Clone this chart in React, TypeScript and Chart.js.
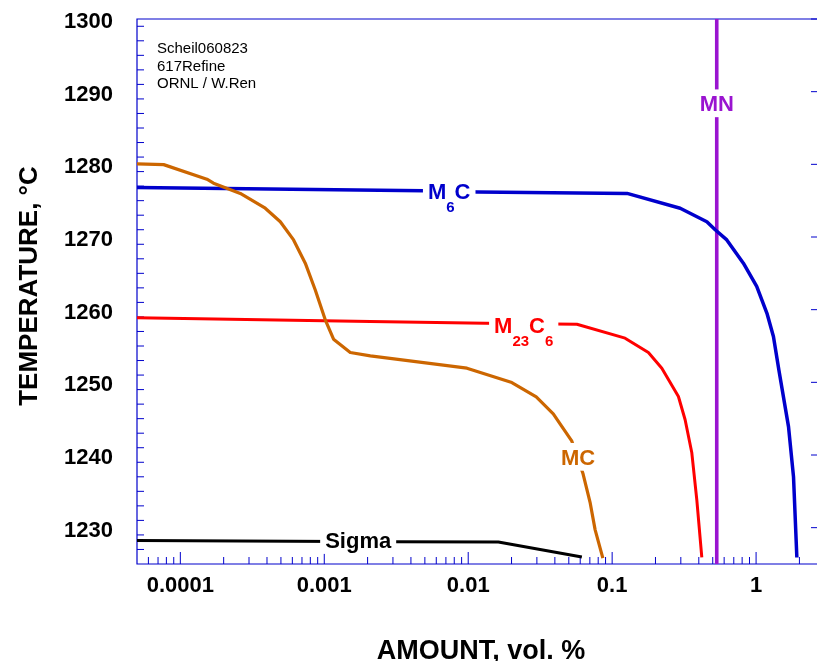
import React, { useEffect, useRef } from 'react';
import { Chart, registerables } from 'chart.js';

Chart.register(...registerables);

// ---- axis ranges & ticks ----
const X_MIN = 5e-5;
const X_MAX = 2.65;
const Y_MIN = 1225;
const Y_MAX = 1300;
const xTickValues = [1e-4, 1e-3, 1e-2, 0.1, 1];
const xTickLabels = ['0.0001', '0.001', '0.01', '0.1', '1'];
const yTickValues = [1230, 1240, 1250, 1260, 1270, 1280, 1290, 1300];
const yMinorStep = 2;

// ---- series ----
const mcX = [5e-5, 7.66e-5, 1.53e-4, 1.70e-4, 2.61e-4, 3.89e-4, 4.95e-4, 6.12e-4, 7.38e-4, 8.66e-4, 1.016e-3, 1.16e-3, 1.516e-3, 2.09e-3, 9.8e-3, 0.0201, 0.0297, 0.039, 0.0448, 0.0525, 0.0626, 0.0704, 0.0762, 0.0862];
const mcY = [1280.05, 1279.96, 1277.95, 1277.4, 1276.0, 1273.96, 1272.1, 1269.6, 1266.4, 1262.7, 1258.6, 1255.94, 1254.1, 1253.65, 1251.95, 1249.97, 1248.0, 1245.67, 1243.9, 1241.9, 1237.5, 1233.4, 1229.7, 1225.8];

const m6cX = [5e-5, 0.0049, 0.0116, 0.127, 0.297, 0.455, 0.52, 0.626, 0.816, 1.01, 1.19, 1.32, 1.44, 1.68, 1.82, 1.92];
const m6cY = [1276.8, 1276.35, 1276.2, 1276.0, 1273.95, 1272.1, 1271.0, 1269.6, 1266.4, 1263.2, 1259.5, 1256.3, 1251.7, 1243.9, 1237.0, 1225.9];

const m23c6X = [5e-5, 0.00209, 0.0131, 0.0569, 0.123, 0.1786, 0.2214, 0.2887, 0.3214, 0.3577, 0.3876, 0.4197];
const m23c6Y = [1258.9, 1258.36, 1258.14, 1258.0, 1256.08, 1254.1, 1251.95, 1248.05, 1244.85, 1240.3, 1233.8, 1225.9];

const mnX = [0.533, 0.533];
const mnY = [1225, 1300];

const sigmaX = [5e-5, 0.00301, 0.0162, 0.0616];
const sigmaY = [1228.24, 1228.06, 1228.02, 1225.96];

// ---- inline curve labels (anchor in data units) ----
const labelTexts = [
  [['M', 0], ['6', 1], ['C', 0]],
  [['M', 0], ['23', 1], ['C', 0], ['6', 1]],
  [['MC', 0]],
  [['Sigma', 0]],
  [['MN', 0]],
];
const labelX = [0.00738, 0.0243, 0.058, 0.00172, 0.533];
const labelY = [1276.3, 1257.9, 1239.75, 1228.3, 1288.4];

const noteLines = ['Scheil060823', '617Refine', 'ORNL / W.Ren'];

const COLORS = {
  mc: '#cc6600',
  m6c: '#0000cc',
  m23c6: '#ff0000',
  mn: '#9a14d0',
  sigma: '#000000',
  axis: '#0000cc',
};
const labelColors = [COLORS.m6c, COLORS.m23c6, COLORS.mc, COLORS.sigma, COLORS.mn];

const FONT = '"Liberation Sans", Arial, Helvetica, sans-serif';

const toPts = (xs: number[], ys: number[]) => xs.map((x, i) => ({ x, y: ys[i] }));

const decorPlugin = {
  id: 'decor',
  beforeDatasetsDraw(chart: any) {
    const { ctx, chartArea } = chart;
    const { left, right, top, bottom } = chartArea;
    const xs = chart.scales.x;
    const ys = chart.scales.y;
    ctx.save();
    ctx.strokeStyle = COLORS.axis;
    ctx.lineWidth = 1.2;
    ctx.beginPath();
    ctx.moveTo(left, top);
    ctx.lineTo(right + 1, top);
    ctx.lineTo(right + 1, bottom);
    ctx.lineTo(left, bottom);
    ctx.closePath();
    ctx.stroke();
    ctx.lineWidth = 1;
    // left axis ticks
    for (let v = Y_MIN; v <= Y_MAX; v += yMinorStep) {
      if (v === Y_MIN) continue;
      const p = ys.getPixelForValue(v);
      const major = v % 10 === 0;
      ctx.beginPath();
      ctx.moveTo(left, p);
      ctx.lineTo(left + (major ? 13 : 7), p);
      ctx.stroke();
    }
    // right axis ticks (major only)
    yTickValues.forEach((v) => {
      const p = ys.getPixelForValue(v);
      ctx.beginPath();
      ctx.moveTo(right, p);
      ctx.lineTo(right - 6, p);
      ctx.stroke();
    });
    // bottom axis ticks
    for (let e = -5; e <= 0; e++) {
      for (let m = 1; m <= 9; m++) {
        const v = m * Math.pow(10, e);
        if (v <= X_MIN || v >= X_MAX) continue;
        const p = xs.getPixelForValue(v);
        const major = m === 1;
        ctx.beginPath();
        ctx.moveTo(p, bottom);
        ctx.lineTo(p, bottom - (major ? 12 : 7));
        ctx.stroke();
      }
    }
    ctx.restore();
  },
  afterDatasetsDraw(chart: any) {
    const { ctx, chartArea } = chart;
    const xs = chart.scales.x;
    const ys = chart.scales.y;
    ctx.save();
    const mainSize = 22;
    const subSize = 15;
    const mainFont = `bold ${mainSize}px ${FONT}`;
    const subFont = `bold ${subSize}px ${FONT}`;
    const cap = mainSize * 0.716;
    labelTexts.forEach((parts: any[], i) => {
      const cx = xs.getPixelForValue(labelX[i]);
      const cy = ys.getPixelForValue(labelY[i]);
      const widths = parts.map(([t, sub]) => {
        ctx.font = sub ? subFont : mainFont;
        return ctx.measureText(t).width;
      });
      const total = widths.reduce((a: number, b: number) => a + b, 0);
      const x0 = cx - total / 2;
      const base = cy + cap / 2;
      ctx.fillStyle = '#ffffff';
      ctx.fillRect(x0 - 5, base - cap - 6, total + 10, cap + 12);
      ctx.fillStyle = labelColors[i];
      ctx.textBaseline = 'alphabetic';
      ctx.textAlign = 'left';
      let x = x0;
      parts.forEach(([t, sub]: any, j: number) => {
        ctx.font = sub ? subFont : mainFont;
        ctx.fillText(t, x, sub ? base + 13 : base);
        x += widths[j];
      });
    });

    // note text
    ctx.fillStyle = '#000';
    ctx.font = `15px ${FONT}`;
    ctx.textAlign = 'left';
    ctx.textBaseline = 'alphabetic';
    noteLines.forEach((t, i) => {
      ctx.fillText(t, chartArea.left + 20, chartArea.top + 34 + i * 17.5);
    });

    // axis titles
    ctx.font = `bold 27px ${FONT}`;
    ctx.textAlign = 'center';
    ctx.fillText('AMOUNT, vol. %', 481, 659);
    ctx.save();
    ctx.translate(37, 286);
    ctx.rotate(-Math.PI / 2);
    ctx.font = `bold 26px ${FONT}`;
    ctx.fillText('TEMPERATURE, \u00B0C', 0, 0);
    ctx.restore();
    ctx.restore();
  },
};

export default function App() {
  const ref = useRef<HTMLCanvasElement | null>(null);
  useEffect(() => {
    document.body.style.margin = '0';
    const canvas = ref.current;
    if (!canvas) return;
    const mk = (data: any[], color: string, w: number) => ({
      data,
      borderColor: color,
      backgroundColor: color,
      borderWidth: w,
      pointRadius: 0,
      pointHoverRadius: 0,
      tension: 0,
      fill: false,
      borderJoinStyle: 'round' as const,
    });
    const chart = new Chart(canvas, {
      type: 'line',
      data: {
        datasets: [
          mk(toPts(mcX, mcY), COLORS.mc, 3.2),
          mk(toPts(m6cX, m6cY), COLORS.m6c, 3.5),
          mk(toPts(m23c6X, m23c6Y), COLORS.m23c6, 3),
          mk(toPts(mnX, mnY), COLORS.mn, 3.6),
          mk(toPts(sigmaX, sigmaY), COLORS.sigma, 3),
        ],
      },
      options: {
        responsive: false,
        animation: false,
        devicePixelRatio: 1,
        layout: { padding: { top: 19, right: 0, left: 0, bottom: 0 } },
        plugins: { legend: { display: false }, tooltip: { enabled: false }, title: { display: false } },
        events: [],
        scales: {
          x: {
            type: 'logarithmic',
            min: X_MIN,
            max: X_MAX,
            grid: { display: false, drawTicks: false },
            border: { display: false },
            afterBuildTicks: (s: any) => {
              s.ticks = xTickValues.map((v) => ({ value: v }));
            },
            afterFit: (s: any) => {
              s.height = 97;
              s.paddingLeft = 0;
              s.paddingRight = 0;
              s.paddingTop = 0;
              s.paddingBottom = 0;
            },
            ticks: {
              autoSkip: false,
              maxRotation: 0,
              minRotation: 0,
              padding: 9,
              color: '#000',
              font: { family: FONT, size: 22, weight: 'bold' },
              callback: (v: any) => {
                const i = xTickValues.findIndex((t) => Math.abs(t - v) / t < 1e-6);
                return i >= 0 ? xTickLabels[i] : '';
              },
            },
          },
          y: {
            type: 'linear',
            min: Y_MIN,
            max: Y_MAX,
            grid: { display: false, drawTicks: false },
            border: { display: false },
            afterBuildTicks: (s: any) => {
              s.ticks = yTickValues.map((v) => ({ value: v }));
            },
            afterFit: (s: any) => {
              s.width = 137;
              s.paddingTop = 0;
              s.paddingBottom = 0;
              s.paddingLeft = 0;
              s.paddingRight = 0;
            },
            ticks: {
              autoSkip: false,
              padding: 24,
              labelOffset: 3,
              color: '#000',
              font: { family: FONT, size: 22, weight: 'bold' },
              callback: (v: any) => String(v),
            },
          },
        },
      } as any,
      plugins: [decorPlugin],
    });
    return () => chart.destroy();
  }, []);
  return (
    <div style={{ width: 817, height: 661, position: 'relative' }}>
      <canvas ref={ref} width={817} height={661} style={{ display: 'block' }} />
    </div>
  );
}
